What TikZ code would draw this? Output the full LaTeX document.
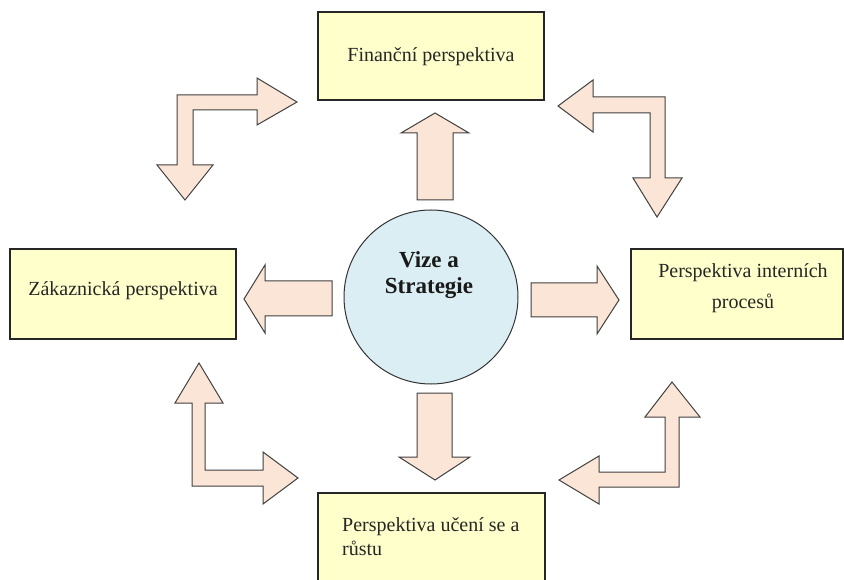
\documentclass[tikz,border=0pt]{standalone}
\usepackage{fontspec}
\setmainfont{Liberation Serif}
\definecolor{boxfill}{HTML}{FFFFCC}
\definecolor{arrowfill}{HTML}{FBE5D6}
\definecolor{arrowline}{HTML}{404040}
\definecolor{circfill}{HTML}{DAEEF3}
\tikzset{
  box/.style={draw=black!85, line width=1.1pt, fill=boxfill, inner sep=0pt},
  blockarrow/.style={draw=arrowline, line width=1pt, fill=arrowfill, line join=miter},
  boxtext/.style={font=\fontsize{20}{31}\selectfont, text=black!85, align=center, inner sep=0pt},
}
\begin{document}
\begin{tikzpicture}[x=1pt,y=-1pt]
\useasboundingbox (0,0) rectangle (844,580);
\clip (0,0) rectangle (844,580);
\fill[white] (0,0) rectangle (844,580);

% boxes
\node[box, minimum width=226pt, minimum height=88pt] (fin) at (431,56) {};
\node[boxtext] (fintext) at (431,57) {Finanční perspektiva};

\node[box, minimum width=226pt, minimum height=90pt] (cust) at (123,294) {};
\node[boxtext] (custtext) at (123,291) {Zákaznická perspektiva};

\node[box, minimum width=212pt, minimum height=90pt] (proc) at (737,294) {};
\node[boxtext] (proctext) at (743,288) {Perspektiva interních\\procesů};

\node[box, minimum width=227pt, minimum height=100pt] (learn) at (431.5,543) {};
\node[boxtext, align=left, anchor=west, font=\fontsize{20}{24}\selectfont] (learntext) at (342,537) {Perspektiva učení se a\\růstu};

% centre circle
\node[circle, draw=black!80, line width=1pt, fill=circfill, minimum size=174pt, inner sep=0pt] (vize) at (431,297) {};
\node[font=\fontsize{23}{26}\selectfont\bfseries, align=center, text=black!90, inner sep=0pt] (vizetext) at (429,275) {Vize a\\Strategie};

% straight arrows
\draw[blockarrow] (417,200) -- (417,133) -- (401,133) -- (435,113) -- (469,133) -- (453,133) -- (453,200) -- cycle;
\draw[blockarrow] (332,281) -- (265,281) -- (265,265) -- (244,299) -- (265,333) -- (265,316) -- (332,316) -- cycle;
\draw[blockarrow] (531,283) -- (597,283) -- (597,266) -- (619,300) -- (597,334) -- (597,317) -- (531,317) -- cycle;
\draw[blockarrow] (417,393) -- (452,393) -- (452,457) -- (470,457) -- (435,480) -- (399,457) -- (417,457) -- cycle;

% bent arrows
\draw[blockarrow] (193,165) -- (193,110) -- (257,110) -- (257,125) -- (297,102) -- (257,78) -- (257,95) -- (177,95) -- (177,165) -- (157,165) -- (185,200) -- (213,165) -- cycle;
\draw[blockarrow] (593,113) -- (650,113) -- (650,178) -- (633,178) -- (657,217) -- (682,178) -- (665,178) -- (665,97) -- (593,97) -- (593,80) -- (558,106) -- (593,132) -- cycle;
\draw[blockarrow] (205,403) -- (205,470) -- (263,470) -- (263,452) -- (298,478) -- (263,504) -- (263,486) -- (192,486) -- (192,403) -- (175,403) -- (199,363) -- (223,403) -- cycle;
\draw[blockarrow] (665,417) -- (665,472) -- (599,472) -- (599,456) -- (559,480) -- (599,504) -- (599,487) -- (679,487) -- (679,417) -- (700,417) -- (672,382) -- (645,417) -- cycle;
\end{tikzpicture}
\end{document}
